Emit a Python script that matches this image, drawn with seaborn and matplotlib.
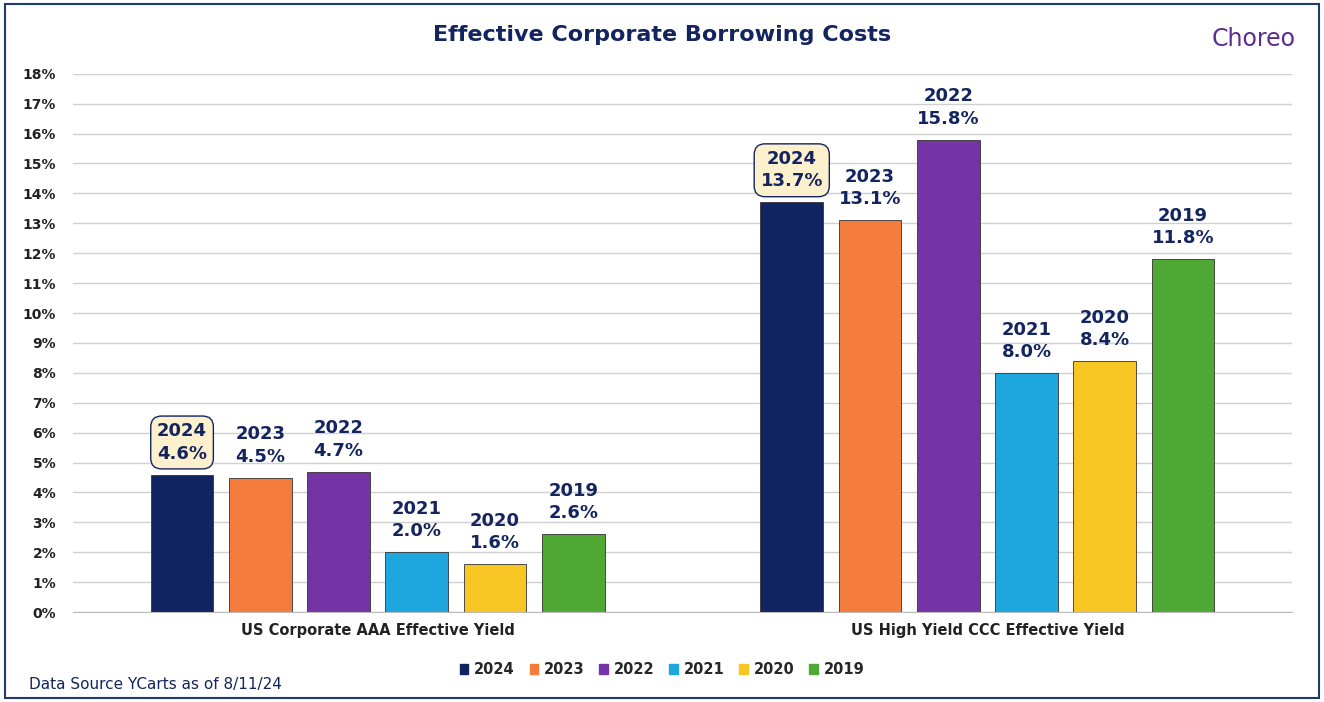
import pandas as pd
import matplotlib.pyplot as plt
import matplotlib.patches as mpatches
import seaborn as sns

# --- Data ---
categories = ['US Corporate AAA Effective Yield', 'US High Yield CCC Effective Yield']
years = ['2024', '2023', '2022', '2021', '2020', '2019']
aaa_values = [4.6, 4.5, 4.7, 2.0, 1.6, 2.6]
ccc_values = [13.7, 13.1, 15.8, 8.0, 8.4, 11.8]
colors = ['#0f2460', '#f47c3c', '#7534a6', '#1ea6de', '#f7c623', '#4fa833']

NAVY = '#13245e'

df = pd.DataFrame({
    'category': [categories[0]] * 6 + [categories[1]] * 6,
    'year': years * 2,
    'value': aaa_values + ccc_values,
})

sns.set_style('white')
fig = plt.figure(figsize=(13.24, 7.02), dpi=100)
ax = fig.add_axes([0.055, 0.128, 0.921, 0.767])

sns.barplot(data=df, x='category', y='value', hue='year', hue_order=years,
            palette=colors, saturation=1, width=0.77, gap=0.2, ax=ax, legend=False,
            edgecolor='#333333', linewidth=0.6)

ax.set_ylim(0, 18)
ax.set_yticks(range(0, 19))
ax.set_yticklabels([f'{i}%' for i in range(0, 19)], fontsize=10, fontweight='bold', color='#222222')
ax.yaxis.grid(True, color='#d0d0d0', linewidth=1)
ax.set_axisbelow(True)
ax.set_xlabel('')
ax.set_ylabel('')
ax.tick_params(axis='x', labelsize=10.5, length=0, pad=8)
for lbl in ax.get_xticklabels():
    lbl.set_fontweight('bold')
    lbl.set_color('#222222')
for s in ['top', 'right', 'left']:
    ax.spines[s].set_visible(False)
ax.spines['bottom'].set_color('#bbbbbb')
ax.tick_params(axis='y', length=0, pad=12)

# value labels
for container, yr in zip(ax.containers, years):
    for bar in container:
        h = bar.get_height()
        x = bar.get_x() + bar.get_width() / 2
        box = None
        if yr == '2024':
            box = dict(boxstyle='round,pad=0.35,rounding_size=0.6', fc='#fdf0cc', ec=NAVY, lw=1)
        ax.text(x, h + 0.4, f'{yr}\n{h:.1f}%', ha='center', va='bottom', fontsize=13,
                fontweight='bold', color=NAVY, linespacing=1.3, bbox=box)

# legend
handles = [mpatches.Patch(color=c, label=y) for c, y in zip(colors, years)]
fig.legend(handles=handles, loc='center', bbox_to_anchor=(0.5, 0.046), ncol=6,
           frameon=False, handlelength=0.6, handleheight=0.6, columnspacing=1.0,
           handletextpad=0.4, prop={'weight': 'bold', 'size': 10.5})

fig.text(0.5, 0.95, 'Effective Corporate Borrowing Costs', ha='center', va='center',
         fontsize=16, fontweight='bold', color=NAVY)
fig.text(0.915, 0.945, 'Choreo', ha='left', va='center', fontsize=17, color='#5b2d8e')
fig.text(0.022, 0.025, 'Data Source YCarts as of 8/11/24', ha='left', va='center',
         fontsize=11, color=NAVY)

fig.patches.append(mpatches.Rectangle((0.004, 0.006), 0.992, 0.988, transform=fig.transFigure,
                                      fill=False, ec='#1f3a70', lw=1.5))

plt.savefig('out.png', dpi=100)
